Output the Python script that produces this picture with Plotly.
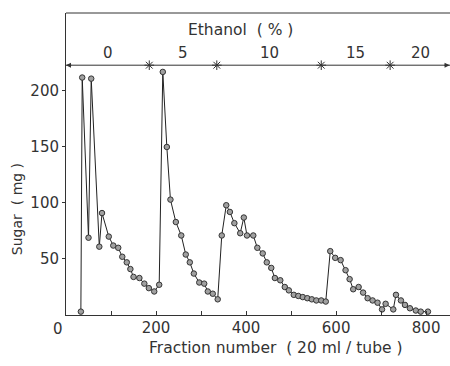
import plotly.graph_objects as go

# Data
fraction = [33, 36, 50, 56, 74, 80, 95, 105, 116, 125, 135, 143, 150, 163, 174, 184,
            196, 207, 215, 224, 232, 244, 256, 266, 275, 284, 296, 307, 315, 326, 337,
            346, 356, 364, 374, 387, 395, 402, 416, 425, 437, 446, 456, 464, 476, 486,
            495, 506, 516, 526, 536, 546, 556, 567, 577, 587, 598, 610, 621, 630, 638,
            650, 660, 670, 681, 692, 702, 710, 727, 733, 744, 753, 764, 777, 788, 804]
sugar = [3, 212, 69, 211, 61, 91, 70, 62, 60, 52, 47, 41, 34, 33, 28, 24,
         21, 27, 217, 150, 103, 83, 71, 54, 47, 37, 29, 28, 21, 19, 14,
         71, 98, 92, 82, 73, 87, 71, 71, 60, 55, 47, 42, 33, 31, 25,
         22, 18, 17, 16, 15, 14, 13, 13, 12, 57, 51, 49, 40, 32, 23,
         25, 20, 15, 13, 11, 5, 10, 5, 18, 13, 9, 6, 4, 3, 3]

ethanol_labels = ["0", "5", "10", "15", "20"]
ethanol_breaks = [185, 335, 567, 720]
x_tick_vals = [0, 100, 200, 300, 400, 500, 600, 700, 800]
x_tick_text = ["", "", "200", "", "400", "", "600", "", "800"]
y_tick_vals = [50, 100, 150, 200]

X_MAX = 853
Y_MAX = 269.6
ETH_Y = 223

ink = "#333333"
font = dict(family="DejaVu Sans, sans-serif", size=15, color=ink)
tfont = dict(family="DejaVu Sans, sans-serif", size=15.5, color=ink)
yfont = dict(family="DejaVu Sans, sans-serif", size=14, color=ink)

fig = go.Figure()

# ethanol gradient line
fig.add_trace(go.Scatter(
    x=[0, X_MAX], y=[ETH_Y, ETH_Y], mode="lines",
    line=dict(color=ink, width=1), hoverinfo="skip", showlegend=False))
fig.add_trace(go.Scatter(
    x=ethanol_breaks, y=[ETH_Y] * len(ethanol_breaks), mode="markers",
    marker=dict(symbol="asterisk-open", size=8, color=ink, line=dict(color=ink, width=1)),
    hoverinfo="skip", showlegend=False))

# sugar profile
fig.add_trace(go.Scatter(
    x=fraction, y=sugar, mode="lines+markers",
    line=dict(color="#222222", width=1),
    marker=dict(symbol="circle", size=5.5, color="#a0a0a0",
                line=dict(color="#333333", width=1)),
    showlegend=False))

annotations = []
edges = [0] + ethanol_breaks + [X_MAX]
for i, lab in enumerate(ethanol_labels):
    annotations.append(dict(x=(edges[i] + edges[i + 1]) / 2, y=234, xref="x", yref="y",
                            text=lab, showarrow=False, font=font, yanchor="middle"))
annotations.append(dict(x=387, y=254, xref="x", yref="y", text="Ethanol  ( % )",
                        showarrow=False, font=tfont, yanchor="middle"))
# arrowheads
annotations.append(dict(x=0, y=ETH_Y, ax=15, ay=ETH_Y, xref="x", yref="y",
                        axref="x", ayref="y", text="", showarrow=True,
                        arrowhead=2, arrowsize=1, arrowwidth=1, arrowcolor=ink))
annotations.append(dict(x=X_MAX - 1, y=ETH_Y, ax=X_MAX - 16, ay=ETH_Y, xref="x", yref="y",
                        axref="x", ayref="y", text="", showarrow=True,
                        arrowhead=2, arrowsize=1, arrowwidth=1, arrowcolor=ink))
# origin label
annotations.append(dict(x=0, y=0, xref="x", yref="paper", text="0", showarrow=False,
                        font=font, xshift=-8, yshift=-3, yanchor="top"))
# axis titles
annotations.append(dict(x=0.547, y=-0.109, xref="paper", yref="paper",
                        text="Fraction number  ( 20 ml / tube )", showarrow=False,
                        font=tfont, yanchor="middle"))
annotations.append(dict(x=-0.128, y=0.35, xref="paper", yref="paper",
                        text="Sugar  ( mg )", showarrow=False, textangle=-90,
                        font=yfont, xanchor="center", yanchor="middle"))

fig.update_layout(
    width=450, height=366,
    margin=dict(l=66, r=0, t=13, b=51),
    paper_bgcolor="white", plot_bgcolor="white",
    font=font,
    annotations=annotations,
    shapes=[dict(type="line", xref="paper", yref="paper", x0=0, x1=1, y0=1, y1=1,
                 line=dict(color=ink, width=1))],
)
fig.update_xaxes(range=[0, X_MAX], tickmode="array", tickvals=x_tick_vals,
                 ticktext=x_tick_text, ticks="inside", ticklen=4, tickcolor=ink,
                 ticklabelstandoff=-1,
                 showline=True, linecolor=ink, linewidth=1, showgrid=False,
                 zeroline=False, tickfont=font)
fig.update_yaxes(range=[0, Y_MAX], tickmode="array", tickvals=y_tick_vals,
                 ticks="outside", ticklen=3, tickcolor=ink,
                 showline=True, linecolor=ink, linewidth=1, showgrid=False,
                 zeroline=False, tickfont=font)

fig.write_html("out.html")
